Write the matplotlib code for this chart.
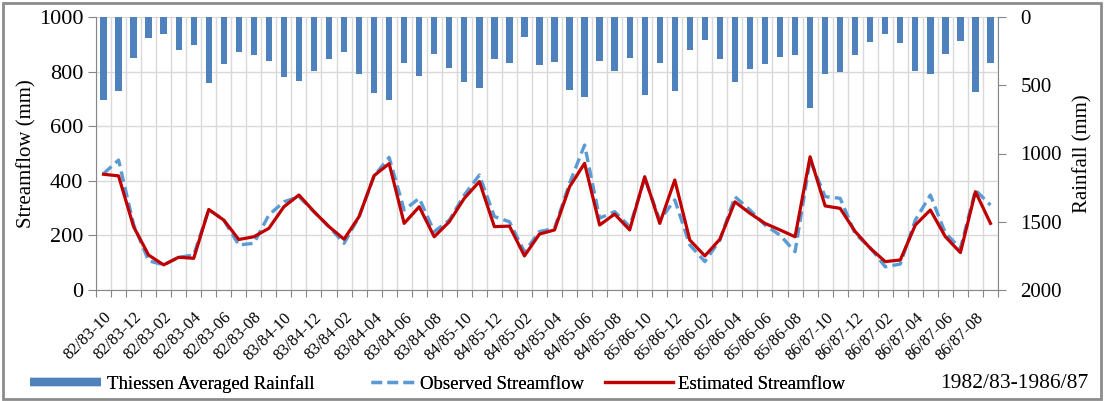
import numpy as np
import matplotlib
matplotlib.use('Agg')
import matplotlib.pyplot as plt
from matplotlib.lines import Line2D
from matplotlib.patches import Rectangle
from matplotlib.transforms import ScaledTranslation

plt.rcParams['font.family'] = ['Liberation Serif', 'DejaVu Serif']

# water years Oct..Sep, 1982/83 to 1986/87
water_years = ['82/83', '83/84', '84/85', '85/86', '86/87']
months = ['10', '11', '12', '01', '02', '03', '04', '05', '06', '07', '08', '09']
periods = [wy + '-' + m for wy in water_years for m in months]

# monthly Thiessen averaged rainfall (mm)
rainfall = [608, 542, 298, 156, 127, 242, 205, 486, 347, 259, 278, 325,
            440, 467, 393, 308, 254, 418, 559, 608, 335, 430, 269, 374,
            476, 523, 308, 335, 147, 354, 327, 535, 588, 325, 393, 298,
            571, 335, 542, 242, 166, 308, 476, 383, 344, 295, 278, 664,
            420, 400, 278, 186, 127, 193, 393, 418, 271, 176, 552, 335]

# observed streamflow (mm)
observed = [426, 476, 240, 107, 92, 120, 128, 295, 256, 165, 171, 275,
            323, 342, 287, 232, 171, 269, 418, 486, 293, 336, 214, 256,
            348, 421, 269, 250, 140, 214, 226, 391, 531, 263, 287, 232,
            409, 256, 330, 165, 104, 183, 342, 293, 238, 201, 140, 476,
            342, 336, 206, 155, 85, 95, 256, 348, 208, 153, 366, 311]

# estimated streamflow (mm)
estimated = [424, 418, 232, 128, 92, 120, 116, 295, 256, 185, 195, 226,
             305, 348, 287, 232, 186, 269, 419, 463, 244, 305, 195, 250,
             336, 397, 232, 234, 125, 205, 220, 378, 464, 238, 278, 220,
             415, 244, 403, 183, 125, 186, 323, 281, 244, 220, 195, 488,
             308, 299, 214, 153, 104, 110, 238, 293, 195, 137, 360, 244]

x = np.arange(len(periods))
axis_col = '#868686'
grid_col = '#D9D9D9'
bar_col = '#4F81BD'
obs_col = '#5B9BD5'
est_col = '#C00000'
obs_dash = (0, (3.2, 1.6))

fig = plt.figure(figsize=(11.04, 4.01), dpi=100)
ax = fig.add_axes([96/1104, 1-290/401, 902/1104, 273/401])

ax.plot(x, observed, color=obs_col, lw=2.4, linestyle=obs_dash, zorder=3)
ax.plot(x, estimated, color=est_col, lw=2.3, zorder=4)

ax.set_xlim(-0.5, len(x) - 0.5)
ax.set_ylim(0, 1000)
ax.set_yticks(np.arange(0, 1001, 200))
ax.set_xticks(np.arange(-0.5, len(x), 1))
ax.set_xticklabels([])
ax.set_xticks(x[::2], minor=True)
ax.set_xticklabels(periods[::2], minor=True, rotation=45, ha='right',
                   rotation_mode='anchor', fontsize=12)
shift = ScaledTranslation(-4/72, 0, fig.dpi_scale_trans)
for lab in ax.get_xticklabels(minor=True):
    lab.set_transform(lab.get_transform() + shift)
ax.tick_params(axis='x', which='major', length=5, color=axis_col)
ax.tick_params(axis='x', which='minor', length=0, pad=14)
ax.tick_params(axis='y', length=6, color=axis_col, labelsize=16, pad=3)
ax.grid(True, which='major', color=grid_col, lw=1)
ax.set_axisbelow(True)
ax.set_ylabel('Streamflow (mm)', fontsize=15, labelpad=2)
for s in ['top', 'right']:
    ax.spines[s].set_visible(False)
for s in ['left', 'bottom']:
    ax.spines[s].set_color(axis_col)

ax2 = ax.twinx()
ax2.bar(x, rainfall, width=0.42, color=bar_col, zorder=2)
ax2.set_ylim(2000, 0)
ax2.set_yticks(np.arange(0, 2001, 500))
ax2.tick_params(axis='y', length=6, color=axis_col, labelsize=15, pad=10)
ax2.set_ylabel('Rainfall (mm)', fontsize=15, labelpad=8)
for s in ['top', 'left', 'bottom']:
    ax2.spines[s].set_visible(False)
ax2.spines['right'].set_color(axis_col)

# legend entries laid out one by one along the bottom
entries = [
    (Line2D([], [], color=bar_col, lw=6, solid_capstyle='butt'),
     'Thiessen Averaged Rainfall', 30, 3.8),
    (Line2D([], [], color=obs_col, lw=2.4, linestyle=obs_dash),
     'Observed Streamflow', 371, 2.3),
    (Line2D([], [], color=est_col, lw=2.3),
     'Estimated Streamflow', 605, 3.6),
]
for handle, label, x0, hlen in entries:
    leg = fig.legend([handle], [label], loc='center left',
                     bbox_to_anchor=(x0/1104, 1-384/401), frameon=False,
                     fontsize=13.5, handlelength=hlen, handletextpad=0.3,
                     borderpad=0, borderaxespad=0)
    fig.add_artist(leg)
fig.text(1088/1104, 1-384/401, '1982/83-1986/87', ha='right', va='center',
         fontsize=15.5)

fig.patches.append(Rectangle((0.003, 0.006), 0.994, 0.986, transform=fig.transFigure,
                             fill=False, edgecolor='#8C8C8C', lw=2))

fig.savefig('out.png', dpi=100)
